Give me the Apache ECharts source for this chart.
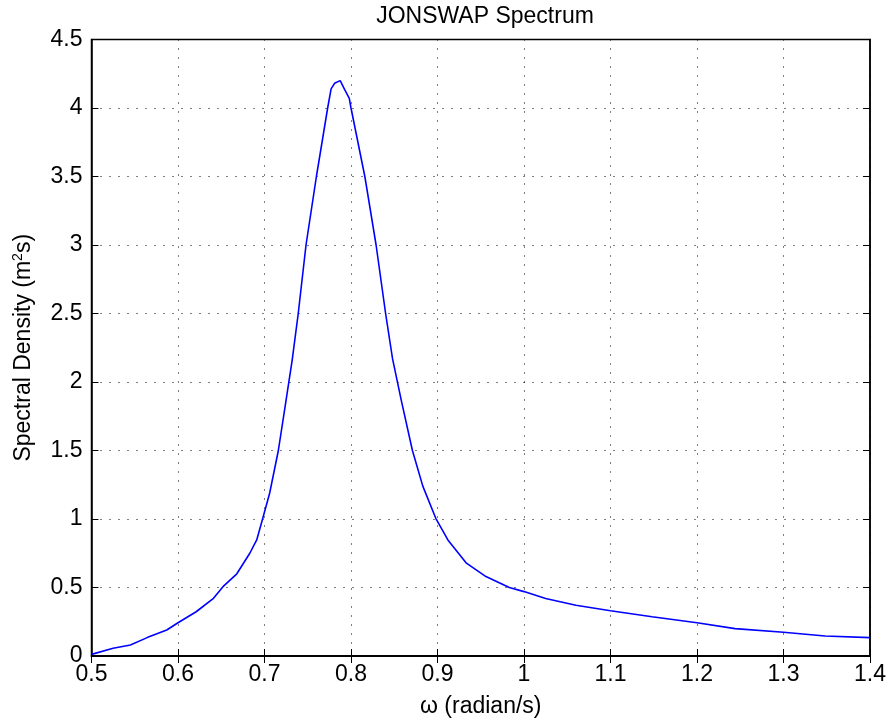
<!DOCTYPE html>
<html>
<head>
<meta charset="utf-8">
<script src="https://cdn.jsdelivr.net/npm/echarts@6/dist/echarts.min.js"></script>
<style>
html,body{margin:0;padding:0;background:#fff;}
#chart{width:889px;height:727px;}
</style>
</head>
<body>
<div id="chart"></div>
<script>
const omega = [0.500,0.525,0.545,0.565,0.587,0.600,0.621,0.641,0.652,0.668,0.683,0.691,0.698,0.706,0.716,0.725,0.732,0.739,0.748,0.760,0.773,0.777,0.781,0.7875,0.793,0.798,0.800,0.816,0.829,0.840,0.848,0.858,0.871,0.883,0.898,0.912,0.933,0.956,0.983,1.000,1.025,1.060,1.100,1.148,1.200,1.244,1.300,1.348,1.400];
const density = [0.012,0.056,0.080,0.136,0.190,0.243,0.323,0.421,0.506,0.600,0.750,0.847,1.005,1.190,1.500,1.870,2.160,2.500,3.000,3.500,4.000,4.140,4.180,4.200,4.130,4.070,4.000,3.500,3.000,2.500,2.170,1.870,1.500,1.240,1.005,0.847,0.680,0.580,0.500,0.470,0.420,0.370,0.330,0.287,0.243,0.200,0.173,0.146,0.134];
const titleText = 'JONSWAP Spectrum';
const xName = 'ω (radian/s)';
const yName = 'Spectral Density (m{sup|2}s)';

const FONT = '"Liberation Sans", Arial, sans-serif';
const FS = 23;
const fmt = v => String(Math.round(v * 10) / 10);
const dotted = { color: '#000', width: 1, type: [1, 8] };

const chart = echarts.init(document.getElementById('chart'));
chart.setOption({
  animation: false,
  backgroundColor: '#fff',
  title: {
    text: titleText, left: 480, top: 0, textAlign: 'center',
    textStyle: { fontFamily: FONT, fontSize: FS, fontWeight: 'normal', color: '#000' }
  },
  grid: { left: 91.5, right: 17.5, top: 39.5, bottom: 71, show: true, borderColor: '#000', borderWidth: 1.5 },
  xAxis: [{
    type: 'value', min: 0.5, max: 1.4, interval: 0.1, position: 'bottom',
    name: xName, nameLocation: 'middle', nameGap: 39,
    nameTextStyle: { fontFamily: FONT, fontSize: FS, color: '#000' },
    axisLine: { show: true, lineStyle: { color: '#000', width: 1.5 } },
    axisTick: { show: true, inside: true, length: 7, lineStyle: { color: '#000' } },
    axisLabel: { formatter: fmt, fontFamily: FONT, fontSize: FS, color: '#000', margin: 7 },
    splitLine: { show: true, lineStyle: dotted }
  }, {
    type: 'value', min: 0.5, max: 1.4, interval: 0.1, position: 'top',
    axisLine: { show: true, lineStyle: { color: '#000', width: 1.5 } },
    axisTick: { show: true, inside: true, length: 7, lineStyle: { color: '#000' } },
    axisLabel: { show: false }, splitLine: { show: false }
  }],
  yAxis: [{
    type: 'value', min: 0, max: 4.5, interval: 0.5, position: 'left',
    name: yName, nameLocation: 'middle', nameGap: 55,
    nameTextStyle: { fontFamily: FONT, fontSize: FS, color: '#000',
      rich: { sup: { fontFamily: FONT, fontSize: 14, color: '#000', verticalAlign: 'bottom', padding: [0, 0, 11, 0] } } },
    axisLine: { show: true, lineStyle: { color: '#000', width: 1.5 } },
    axisTick: { show: true, inside: true, length: 7, lineStyle: { color: '#000' } },
    axisLabel: { formatter: fmt, fontFamily: FONT, fontSize: FS, color: '#000', margin: 9 },
    splitLine: { show: true, lineStyle: dotted }
  }, {
    type: 'value', min: 0, max: 4.5, interval: 0.5, position: 'right',
    axisLine: { show: true, lineStyle: { color: '#000', width: 1.5 } },
    axisTick: { show: true, inside: true, length: 7, lineStyle: { color: '#000' } },
    axisLabel: { show: false }, splitLine: { show: false }
  }],
  series: [{
    type: 'line', xAxisIndex: 0, yAxisIndex: 0,
    data: omega.map((w, i) => [w, density[i]]),
    showSymbol: false, symbol: 'none',
    lineStyle: { color: '#0000ff', width: 1.6 }
  }]
});
</script>
</body>
</html>
